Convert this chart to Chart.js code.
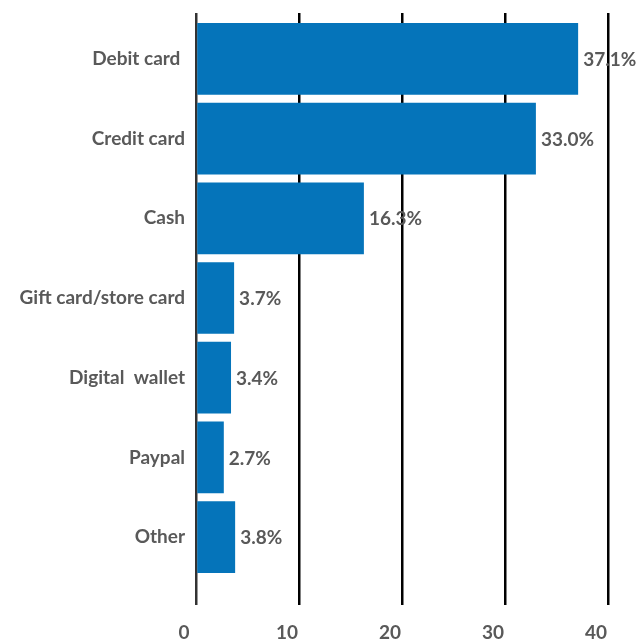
<!DOCTYPE html>
<html>
<head>
<meta charset="utf-8">
<script src="https://cdn.jsdelivr.net/npm/chart.js@4"></script>
<style>
  html, body { margin: 0; padding: 0; background: #fff; }
  #wrap { width: 639px; height: 641px; }
</style>
</head>
<body>
<div id="wrap"><canvas id="payChart"></canvas></div>
<script>
const categories = ['Debit card ', 'Credit card', 'Cash', 'Gift card/store card', 'Digital  wallet', 'Paypal', 'Other'];
const shares = [37.1, 33.0, 16.3, 3.7, 3.4, 2.7, 3.8];
const xTicks = [0, 10, 20, 30, 40];

const textGrey = '#595959';
const barBlue = '#0574BA';
const font = { family: 'Lato', size: 19, weight: 'bold' };

// value labels to the right of each bar
const valueLabels = {
  id: 'valueLabels',
  afterDatasetsDraw(chart) {
    const ctx = chart.ctx;
    const meta = chart.getDatasetMeta(0);
    ctx.save();
    ctx.font = 'bold 19px Lato';
    ctx.fillStyle = textGrey;
    ctx.textAlign = 'left';
    ctx.textBaseline = 'middle';
    meta.data.forEach((bar, i) => {
      ctx.fillText(shares[i].toFixed(1) + '%', bar.x + 5, bar.y + 1);
    });
    ctx.restore();
  }
};

new Chart(document.getElementById('payChart'), {
  type: 'bar',
  data: {
    labels: categories,
    datasets: [{
      data: shares,
      backgroundColor: barBlue,
      barPercentage: 0.9,
      categoryPercentage: 1
    }]
  },
  options: {
    indexAxis: 'y',
    responsive: true,
    maintainAspectRatio: false,
    animation: false,
    layout: { padding: { left: 10, right: 31, top: 13, bottom: 0 } },
    plugins: { legend: { display: false }, tooltip: { enabled: false } },
    scales: {
      x: {
        min: 0,
        max: 40,
        afterBuildTicks: s => { s.ticks = xTicks.map(v => ({ value: v })); },
        afterFit: s => { s.height = 64; },
        border: { display: false },
        grid: {
          color: c => c.index === 0 ? '#333' : '#000',
          lineWidth: 2.5,
          drawTicks: true,
          tickLength: 28
        },
        ticks: { font, color: textGrey, padding: 16, labelOffset: -12, maxRotation: 0 }
      },
      x2: {
        position: 'top',
        min: 0,
        max: 40,
        afterBuildTicks: s => { s.ticks = xTicks.map(v => ({ value: v })); },
        afterFit: s => { s.height = 6; },
        border: { display: false },
        grid: {
          drawOnChartArea: false,
          color: c => c.index === 0 ? '#333' : '#000',
          lineWidth: 2.5,
          tickLength: 6
        },
        ticks: { display: false }
      },
      y: {
        afterFit: s => { s.width = 186; },
        border: { display: false },
        grid: { display: false },
        ticks: { font, color: textGrey, padding: 3 }
      }
    }
  },
  plugins: [valueLabels]
});
</script>
</body>
</html>
